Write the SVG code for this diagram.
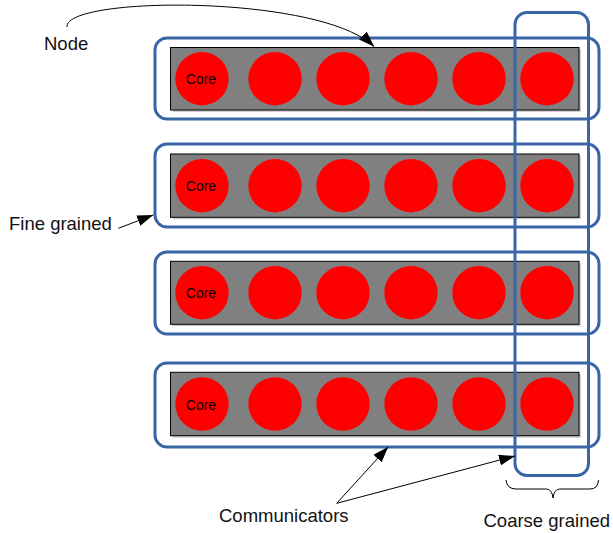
<svg xmlns="http://www.w3.org/2000/svg" width="613" height="533" viewBox="0 0 613 533">
  <style>
    .label { font-family: "Liberation Sans", Arial, sans-serif; font-size: 18.5px; fill: #111; }
    .core-label { font-family: "Liberation Sans", Arial, sans-serif; font-size: 14px; fill: #000; text-anchor: middle; }
    .shadow { fill: #cfcfcf; }
    .board { fill: #808080; stroke: #000; stroke-width: 1; }
    .core { fill: #ff0000; }
    .group-box { fill: none; stroke: #3a66a7; stroke-width: 3; }
    .conn { fill: none; stroke: #000; stroke-width: 1; }
  </style>
  <defs>
    <marker id="arrow" viewBox="0 0 16 11" refX="16" refY="5.5" markerWidth="16" markerHeight="11" markerUnits="userSpaceOnUse" orient="auto">
      <path d="M0,0 L16,5.5 L0,11 z" fill="#000"/>
    </marker>
    <g id="cores">
      <circle class="core" cx="202" cy="0" r="26.7"/>
      <circle class="core" cx="275" cy="0" r="26.7"/>
      <circle class="core" cx="343" cy="0" r="26.7"/>
      <circle class="core" cx="411" cy="0" r="26.7"/>
      <circle class="core" cx="479" cy="0" r="26.7"/>
      <circle class="core" cx="547" cy="0" r="26.7"/>
    </g>
  </defs>

  <rect width="613" height="533" fill="#fff"/>

  <!-- Node 1 -->
  <g id="node1">
    <rect class="shadow" x="172.5" y="49.5" width="408.5" height="62.5"/>
    <rect class="board" x="170.5" y="47.5" width="408.5" height="62.5"/>
    <use href="#cores" y="78.7"/>
    <text class="core-label" x="201" y="84.3">Core</text>
    <rect class="group-box" x="155" y="38" width="444" height="81" rx="12"/>
  </g>

  <!-- Node 2 -->
  <g id="node2">
    <rect class="shadow" x="172.5" y="156" width="408.5" height="63.3"/>
    <rect class="board" x="170.5" y="154" width="408.5" height="63.3"/>
    <use href="#cores" y="185.7"/>
    <text class="core-label" x="201" y="191.3">Core</text>
    <rect class="group-box" x="155" y="144" width="444" height="83" rx="12"/>
  </g>

  <!-- Node 3 -->
  <g id="node3">
    <rect class="shadow" x="172.5" y="263.3" width="408.5" height="63"/>
    <rect class="board" x="170.5" y="261.3" width="408.5" height="63"/>
    <use href="#cores" y="292.7"/>
    <text class="core-label" x="201" y="298.3">Core</text>
    <rect class="group-box" x="155" y="252" width="444" height="82" rx="12"/>
  </g>

  <!-- Node 4 -->
  <g id="node4">
    <rect class="shadow" x="172.5" y="374.3" width="408.5" height="63.4"/>
    <rect class="board" x="170.5" y="372.3" width="408.5" height="63.4"/>
    <use href="#cores" y="404"/>
    <text class="core-label" x="201" y="409.6">Core</text>
    <rect class="group-box" x="155" y="363" width="444" height="84" rx="12"/>
  </g>

  <!-- Coarse-grained column grouping -->
  <g id="coarse-group">
    <rect class="group-box" x="515" y="12.5" width="73.5" height="463" rx="12"/>
    <path class="conn" d="M506,480 Q507,489 516,489 L546,489 Q552,489 553,498 Q554,489 560,489 L590,489 Q598,489 598.5,480"/>
  </g>

  <!-- Connectors -->
  <g id="connectors">
    <path class="conn" d="M67,27 C64,-4 320,-6 374.3,46.7" marker-end="url(#arrow)"/>
    <path class="conn" d="M118.3,228.3 L153.3,215" marker-end="url(#arrow)"/>
    <path class="conn" d="M336.7,503.3 L388.3,446.7" marker-end="url(#arrow)"/>
    <path class="conn" d="M336.7,503.3 L515,456" marker-end="url(#arrow)"/>
  </g>

  <!-- Labels -->
  <g id="labels">
    <text class="label" x="44" y="49.5">Node</text>
    <text class="label" x="9" y="230">Fine grained</text>
    <text class="label" x="219" y="521.5">Communicators</text>
    <text class="label" x="483.5" y="527.3">Coarse grained</text>
  </g>
</svg>
